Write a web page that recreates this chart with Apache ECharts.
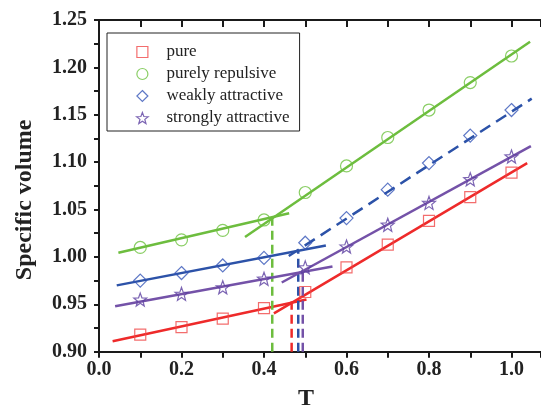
<!DOCTYPE html>
<html>
<head>
<meta charset="utf-8">
<script src="https://cdn.jsdelivr.net/npm/echarts@6/dist/echarts.min.js"></script>
<style>
html,body{margin:0;padding:0;background:#fff;}
#main{width:541px;height:410px;}
</style>
</head>
<body>
<div id="main"></div>
<script>
// 温度
var temps = [0.1, 0.2, 0.3, 0.4, 0.5, 0.6, 0.7, 0.8, 0.9, 1.0];
// 各体系的比容
var purePts = [0.918, 0.926, 0.935, 0.946, 0.963, 0.989, 1.013, 1.038, 1.063, 1.089];
var repulsivePts = [1.010, 1.018, 1.028, 1.039, 1.068, 1.096, 1.126, 1.155, 1.184, 1.212];
var weakPts = [0.975, 0.983, 0.991, 0.999, 1.015, 1.041, 1.071, 1.099, 1.128, 1.155];
var strongPts = [0.955, 0.961, 0.968, 0.977, 0.989, 1.011, 1.034, 1.057, 1.082, 1.106];

// 拟合直线 (端点)
var pureLow = [[0.033, 0.911], [0.503, 0.955]];
var pureHigh = [[0.424, 0.9405], [1.038, 1.099]];
var pureTg = [[0.467, 0.90], [0.467, 0.953]];
var repLow = [[0.047, 1.0045], [0.461, 1.046]];
var repHigh = [[0.354, 1.021], [1.045, 1.227]];
var repTg = [[0.42, 0.90], [0.42, 1.041]];
var weakLow = [[0.043, 0.970], [0.550, 1.012]];
var weakHigh = [[0.46, 1.001], [1.049, 1.167]];
var weakTg = [[0.483, 0.90], [0.483, 1.006]];
var strongLow = [[0.039, 0.948], [0.566, 0.990]];
var strongHigh = [[0.443, 0.973], [1.047, 1.117]];
var strongTg = [[0.494, 0.90], [0.494, 0.985]];

var names = ['pure', 'purely repulsive', 'weakly attractive', 'strongly attractive'];

var SQUARE = 'path://M0,0L11,0L11,11L0,11Z';
var DIAMOND = 'path://M6,0L12,6L6,12L0,6Z';
var STAR = 'path://M6.5,0L8.10,4.29L12.68,4.49L9.10,7.34L10.32,11.76L6.5,9.23L2.68,11.76L3.90,7.34L0.32,4.49L4.90,4.29Z';

var AXIS = '#1a1a1a';
var SERIF = '"Liberation Serif", "Times New Roman", serif';

function pairs(ys){
	var out = [];
	for (var i = 0; i < temps.length; i++) {
		out.push([temps[i], ys[i]]);
	}
	return out;
}

function marks(name, ys, symbol, size, color){
	return {
		name: name,
		type: 'scatter',
		data: pairs(ys),
		symbol: symbol,
		symbolSize: size,
		z: 5,
		itemStyle: {color: 'transparent', borderColor: color, borderWidth: 1.2}
	};
}

function seg(data, color, dashed){
	return {
		type: 'line',
		data: data,
		symbol: 'none',
		silent: true,
		z: 3,
		lineStyle: {color: color, width: 2.5, type: dashed ? [12, 7] : 'solid'}
	};
}

function vseg(data, color){
	var s = seg(data, color, false);
	s.lineStyle.type = [9, 5];
	return s;
}

function buildChart(){
	var myChart = echarts.init(document.getElementById('main'));

	var option = {
		animation: false,
		backgroundColor: '#fff',
		grid: {left: 99, top: 20, right: 0, bottom: 58.3, containLabel: false, outerBoundsMode: 'none'},
		legend: {
			data: [
				{name: names[0], icon: SQUARE},
				{name: names[1], icon: 'circle'},
				{name: names[2], icon: DIAMOND},
				{name: names[3], icon: STAR}
			],
			orient: 'vertical',
			left: 107,
			top: 33,
			padding: [8, 10, 2, 29],
			itemGap: 0,
			itemWidth: 38,
			itemHeight: 11,
			borderColor: '#222',
			borderWidth: 1,
			itemStyle: {borderWidth: 1.2},
			textStyle: {fontFamily: SERIF, fontSize: 17, color: '#222', lineHeight: 22}
		},
		xAxis: [{
			type: 'value',
			min: 0,
			max: 1.0715,
			interval: 0.1,
			name: 'T',
			nameLocation: 'middle',
			nameGap: 35,
			nameTextStyle: {fontFamily: SERIF, fontWeight: 'bold', fontSize: 24, color: '#222', padding: [0, 28, 0, 0]},
			axisLine: {lineStyle: {color: AXIS, width: 2}},
			axisTick: {inside: false, length: 6, lineStyle: {color: AXIS, width: 2}},
			axisLabel: {
				margin: 8,
				fontFamily: SERIF,
				fontWeight: 'bold',
				fontSize: 20,
				color: '#222',
				formatter: function(v){
					if (v > 1.0001) return '';
					return Math.round(v * 10) % 2 === 0 ? v.toFixed(1) : '';
				}
			},
			splitLine: {show: false}
		}, {
			type: 'value',
			position: 'top',
			min: 0,
			max: 1.0715,
			interval: 0.1,
			axisLine: {lineStyle: {color: AXIS, width: 2}},
			axisTick: {inside: true, length: 7, lineStyle: {color: AXIS, width: 2}},
			axisLabel: {show: false},
			splitLine: {show: false}
		}],
		yAxis: {
			type: 'value',
			min: 0.9,
			max: 1.25,
			interval: 0.025,
			name: 'Specific volume',
			nameLocation: 'middle',
			nameGap: 62,
			nameTextStyle: {fontFamily: SERIF, fontWeight: 'bold', fontSize: 24, color: '#222', padding: [0, 28, 0, 0]},
			axisLine: {lineStyle: {color: AXIS, width: 2}},
			axisTick: {inside: false, length: 5, lineStyle: {color: AXIS, width: 2}},
			axisLabel: {
				margin: 12,
				fontFamily: SERIF,
				fontWeight: 'bold',
				fontSize: 20,
				color: '#222',
				formatter: function(v){
					return Math.round(v * 1000) % 50 === 0 ? v.toFixed(2) : '';
				}
			},
			splitLine: {show: false}
		},
		series: [
			seg(pureLow, '#ee2a2a'), seg(pureHigh, '#ee2a2a'), vseg(pureTg, '#ee2a2a'),
			seg(repLow, '#6dbd3e'), seg(repHigh, '#6dbd3e'), vseg(repTg, '#6dbd3e'),
			seg(weakLow, '#2c52a8'), seg(weakHigh, '#2c52a8', true), vseg(weakTg, '#2c52a8'),
			seg(strongLow, '#7452a8'), seg(strongHigh, '#7452a8'), vseg(strongTg, '#7452a8'),
			marks(names[0], purePts, SQUARE, 11, '#f04848'),
			marks(names[1], repulsivePts, 'circle', 12, '#6dc23e'),
			marks(names[2], weakPts, DIAMOND, 13, '#3656b8'),
			marks(names[3], strongPts, STAR, 13, '#5b3fa0')
		]
	};

	myChart.setOption(option);
}

buildChart();
</script>
</body>
</html>
